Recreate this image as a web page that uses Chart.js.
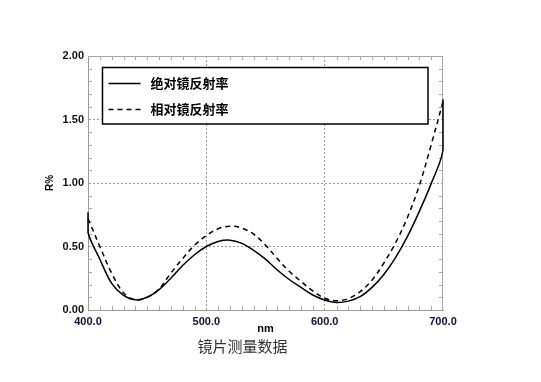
<!DOCTYPE html>
<html><head><meta charset="utf-8">
<script src="https://cdn.jsdelivr.net/npm/chart.js@4"></script>
<style>html,body{margin:0;padding:0;background:#fff;overflow:hidden}</style>
</head><body>
<canvas id="c" width="541" height="382"></canvas>
<script>
// ---- data ----
const wavelengths = [400,410,420,430,440,450,460,470,480,490,500,510,520,530,540,550,560,570,580,590,600,610,620,630,640,650,660,670,680,690,700];
const absoluteR = [0.61,0.40,0.21,0.115,0.08,0.10,0.16,0.25,0.35,0.435,0.50,0.54,0.55,0.525,0.47,0.40,0.315,0.24,0.178,0.118,0.079,0.06,0.07,0.105,0.178,0.28,0.415,0.58,0.777,0.995,1.26];
const relativeR = [0.72,0.50,0.29,0.135,0.08,0.10,0.165,0.29,0.405,0.51,0.585,0.64,0.66,0.645,0.597,0.51,0.405,0.305,0.225,0.15,0.092,0.073,0.09,0.145,0.235,0.37,0.53,0.73,0.98,1.30,1.64];
const absoluteStartSpike = 0.77;   // first reading at 400 nm
const absoluteEndSpike = 1.66;     // last reading at 700 nm
const seriesLabels = ['绝对镜反射率','相对镜反射率'];
const xTicksMajor = [400,500,600,700];
const yTicksMajor = [0,0.5,1.0,1.5,2.0];
const chartTitle = '镜片测量数据';
const xTitle = 'nm';
const yTitle = 'R%';

const absPts = [{x:wavelengths[0], y:absoluteStartSpike}]
  .concat(wavelengths.map((w,i)=>({x:w,y:absoluteR[i]})))
  .concat([{x:wavelengths[wavelengths.length-1], y:absoluteEndSpike}]);
const relPts = wavelengths.map((w,i)=>({x:w,y:relativeR[i]}));

const isMajorY = v => yTicksMajor.some(m => Math.abs(m - v) < 1e-6);
const isMajorX = v => xTicksMajor.some(m => Math.abs(m - v) < 1e-6);

const frame = {
  id:'frame',
  beforeDatasetsDraw(chart){
    const {ctx, chartArea:a, scales:{x,y}} = chart;
    ctx.save();
    ctx.strokeStyle = '#a8a8a8';
    ctx.lineWidth = 1;
    ctx.beginPath();
    ctx.moveTo(a.left, a.top+0.5); ctx.lineTo(a.right, a.top+0.5);
    ctx.moveTo(a.right-0.5, a.top); ctx.lineTo(a.right-0.5, a.bottom);
    for (let v = x.min + 10; v < x.max; v += 10) {
      if (isMajorX(v)) continue;
      const px = Math.round(x.getPixelForValue(v)) + 0.5;
      ctx.moveTo(px, a.bottom); ctx.lineTo(px, a.bottom - 4);
      ctx.moveTo(px, a.top); ctx.lineTo(px, a.top + 4);
    }
    for (let k = 1; k < 20; k++) {
      const v = k/10;
      if (isMajorY(v)) continue;
      const py = Math.round(y.getPixelForValue(v)) + 0.5;
      ctx.moveTo(a.left, py); ctx.lineTo(a.left + 4, py);
      ctx.moveTo(a.right, py); ctx.lineTo(a.right - 4, py);
    }
    ctx.stroke();
    ctx.restore();
  }
};

const legendBox = {
  id:'legendBox',
  afterDraw(chart){
    const {ctx, chartArea:a} = chart;
    const L = a.left + 14.5, T = a.top + 11.5, R = a.right - 15, B = a.top + 68;
    ctx.save();
    ctx.fillStyle = '#fff';
    ctx.fillRect(L, T, R-L, B-T);
    ctx.strokeStyle = '#000'; ctx.lineWidth = 1.5;
    ctx.strokeRect(L, T, R-L, B-T);
    const ds = chart.data.datasets;
    const rows = [T + 16, T + 42];
    ctx.font = 'bold 13px "Noto Sans CJK SC", sans-serif';
    ctx.textBaseline = 'middle';
    ctx.textAlign = 'left';
    for (let i = 0; i < 2; i++) {
      ctx.beginPath();
      ctx.lineWidth = 1.5;
      ctx.strokeStyle = '#000';
      ctx.setLineDash(ds[i].borderDash || []);
      ctx.moveTo(L + 6, rows[i]); ctx.lineTo(L + 38, rows[i]);
      ctx.stroke();
      ctx.setLineDash([]);
      ctx.fillStyle = '#000';
      ctx.fillText(ds[i].label, L + 48, rows[i]);
    }
    ctx.font = '15px "Noto Sans CJK SC", sans-serif';
    ctx.fillStyle = '#333';
    ctx.textAlign = 'center';
    ctx.fillText(chartTitle, (a.left + a.right)/2 - 23, a.bottom + 36);
    ctx.restore();
  }
};

new Chart(document.getElementById('c'), {
  type:'line',
  data:{
    datasets:[
      {label:seriesLabels[0], data:absPts, borderColor:'#000', borderWidth:1.5, pointRadius:0, tension:0.35, fill:false, clip:3},
      {label:seriesLabels[1], data:relPts, borderColor:'#000', borderWidth:1.5, borderDash:[5,4], pointRadius:0, tension:0.35, fill:false, clip:3}
    ]
  },
  options:{
    responsive:false,
    devicePixelRatio:1,
    animation:false,
    layout:{padding:{top:56, right:98, left:0, bottom:0}},
    plugins:{legend:{display:false}, tooltip:{enabled:false}, title:{display:false}},
    scales:{
      x:{
        type:'linear', min:400, max:700,
        afterFit(s){ s.height = 72; },
        ticks:{stepSize:10, autoSkip:false, maxRotation:0, padding:5, color:'#10103a',
          font:{family:'"Liberation Sans", Arial, sans-serif', size:11, weight:'bold'},
          callback:v => isMajorX(v) ? Number(v).toFixed(1) : ''},
        grid:{drawTicks:false, lineWidth:1,
          color:c => (c.tick && isMajorX(c.tick.value) && c.tick.value !== 400 && c.tick.value !== 700) ? '#9a9a9a' : 'rgba(0,0,0,0)'},
        border:{display:true, color:'#9a9a9a', width:1, dash:[2,2]},
        title:{display:true, text:xTitle, color:'#000', padding:{top:0,bottom:46},
          font:{family:'"Liberation Sans", Arial, sans-serif', size:11, weight:'bold'}}
      },
      y:{
        min:0, max:2,
        afterFit(s){ s.width = 88; },
        ticks:{stepSize:0.1, autoSkip:false, padding:4, color:'#111',
          font:{family:'"Liberation Sans", Arial, sans-serif', size:11, weight:'bold'},
          callback:v => isMajorY(v) ? Number(v).toFixed(2) : ''},
        grid:{drawTicks:false, lineWidth:1,
          color:c => (c.tick && isMajorY(c.tick.value) && c.tick.value > 0.01 && c.tick.value < 1.99) ? '#9a9a9a' : 'rgba(0,0,0,0)'},
        border:{display:true, color:'#9a9a9a', width:1, dash:[2,2]},
        title:{display:true, text:yTitle, color:'#000', padding:{top:44,bottom:0},
          font:{family:'"Liberation Sans", Arial, sans-serif', size:10, weight:'bold'}}
      }
    }
  },
  plugins:[frame, legendBox]
});
</script>
</body></html>
